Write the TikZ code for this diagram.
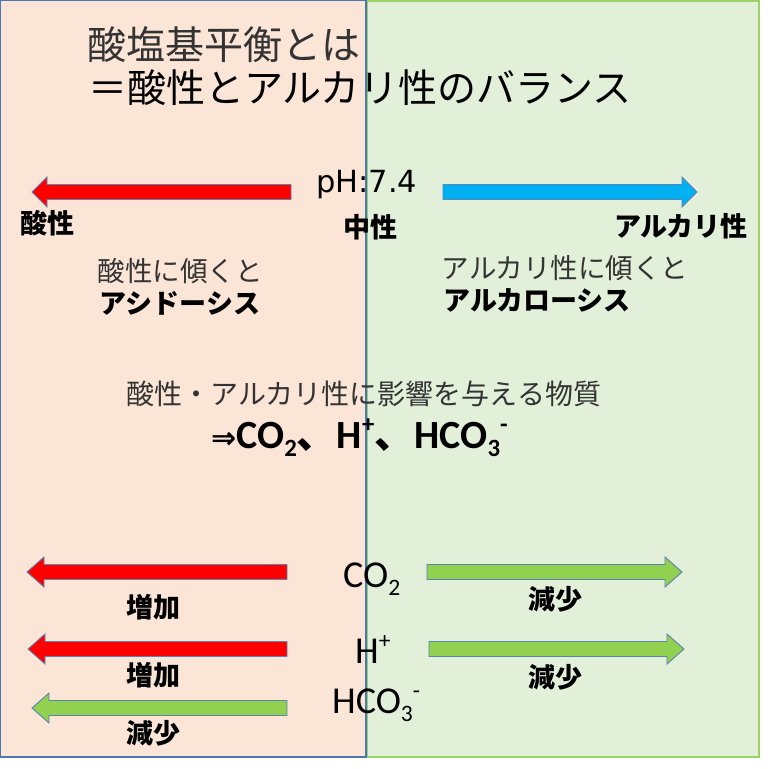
\documentclass[tikz,border=0pt]{standalone}
\usepackage{fontspec}
\newfontfamily\jpfont{Noto Sans CJK JP}
\newfontfamily\calfont{Carlito}
\newfontfamily\dvsfont{DejaVu Sans}
\definecolor{leftfill}{HTML}{FBE5D6}
\definecolor{rightfill}{HTML}{E2F0D9}
\definecolor{leftline}{HTML}{4A76B8}
\definecolor{rightline}{HTML}{9AD466}
\definecolor{arrline}{HTML}{5A82B5}
\definecolor{redf}{HTML}{FF0000}
\definecolor{bluef}{HTML}{00B0F0}
\definecolor{greenf}{HTML}{92D050}
\definecolor{txtgray}{HTML}{333333}
% block arrow: tip x, head base x, tail x, y, fill colour
\newcommand\blockarr[5]{\filldraw[fill=#5,draw=arrline,line width=0.9pt,line join=miter]
  (#1,#4) -- (#2,#4-15) -- (#2,#4-7.5) -- (#3,#4-7.5) -- (#3,#4+7.5) -- (#2,#4+7.5) -- (#2,#4+15) -- cycle;}
\newcommand\chsub[1]{\raisebox{-0.22em}{\scalebox{0.62}{#1}}}
\newcommand\chsup[1]{\raisebox{0.38em}{\scalebox{0.62}{#1}}}
\begin{document}
\begin{tikzpicture}[x=1pt,y=-1pt,
  jpl/.style={font=\jpfont\fontsize{27.5}{30}\selectfont, inner sep=0pt, text=txtgray},
  jpb/.style={font=\jpfont\bfseries\fontsize{27}{30}\selectfont, inner sep=0pt},
  ttl/.style={font=\jpfont\fontsize{39}{44}\selectfont, inner sep=0pt, anchor=west},
  chem/.style={font=\calfont\fontsize{38}{40}\selectfont, inner sep=0pt, anchor=base west}]
\useasboundingbox (0,0) rectangle (768,769);
% panels
\filldraw[fill=leftfill,draw=leftline,line width=1.3pt] (0.7,0.7) rectangle (366,757);
\filldraw[fill=rightfill,draw=rightline,line width=1.6pt] (367.5,0.8) rectangle (759,757);
% titles
\node[ttl,text=txtgray] (t1) at (87,45) {酸塩基平衡とは};
\node[ttl] (t2) at (88,88) {＝酸性とアルカリ性のバランス};
% pH scale
\blockarr{32}{47}{291}{192}{redf}
\blockarr{697}{682}{443}{192}{bluef}
\node[font=\dvsfont\fontsize{30.5}{32}\selectfont, inner sep=0pt, anchor=base west] (ph) at (316,192) {pH:7.4};
\node[jpb] (acid) at (47,223) {酸性};
\node[jpb] (neut) at (370,227) {中性};
\node[jpb] (alk) at (681,226) {アルカリ性};
\node[jpl] (acidlean) at (180,271) {酸性に傾くと};
\node[jpb] (acidosis) at (180,303) {アシドーシス};
\node[jpl] (alklean) at (565,268) {アルカリ性に傾くと};
\node[jpb] (alkalosis) at (537,300) {アルカローシス};
% substances
\node[jpl, font=\jpfont\fontsize{28}{30}\selectfont] (infl) at (364,394) {酸性・アルカリ性に影響を与える物質};
\node[font=\calfont\bfseries\fontsize{40}{42}\selectfont, inner sep=0pt, anchor=base west] (list) at (211,448)
  {{\dvsfont\bfseries\fontsize{30}{32}\selectfont ⇒}CO\chsub{2}{\jpfont\bfseries 、}H\chsup{+}{\jpfont\bfseries 、}HCO\chsub{3}\chsup{-}};
% bottom rows
\blockarr{27}{44}{287}{572}{redf}
\blockarr{682}{665}{427}{572}{greenf}
\node[chem] (co2) at (343,587) {CO\chsub{2}};
\node[jpb] (inc1) at (153,607) {増加};
\node[jpb] (dec1) at (555,599) {減少};
\blockarr{28}{45}{287}{649}{redf}
\blockarr{684}{667}{429}{649}{greenf}
\node[chem] (hp) at (355,663) {H\chsup{+}};
\node[jpb] (inc2) at (153,675) {増加};
\node[jpb] (dec2) at (555,677) {減少};
\blockarr{32}{49}{287}{708}{greenf}
\node[chem] (hco3) at (332,713) {HCO\chsub{3}\chsup{-}};
\node[jpb] (dec3) at (153,733) {減少};
\end{tikzpicture}
\end{document}
